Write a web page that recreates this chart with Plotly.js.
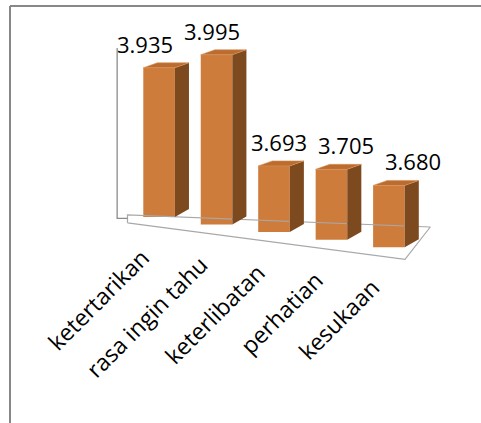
<!DOCTYPE html>
<html>
<head>
<meta charset="utf-8">
<script src="https://cdn.plot.ly/plotly-3.0.1.min.js"></script>
<style>
  html, body { margin: 0; padding: 0; background: #ffffff; }
  #chart { width: 481px; height: 423px; }
</style>
</head>
<body>
<div id="chart"></div>
<script>
// Categories and their mean scores
const categories = ['ketertarikan', 'rasa ingin tahu', 'keterlibatan', 'perhatian', 'kesukaan'];
const values = [3.935, 3.995, 3.693, 3.705, 3.680];
const valueLabels = ['3.935', '3.995', '3.693', '3.705', '3.680'];

// Pseudo-3D geometry (axis units)
const AXIS_MIN = 3.5;       // value where the bars start
const DEPTH_DROP = 0.022;   // floor drops a little per category (perspective)
const BAR_W = 0.55;         // front face width
const SIDE_DX = 0.245;      // depth of the side face, x
const SIDE_DY = 0.0146;     // depth of the side face, y

const FRONT = '#CE7C3B';
const SIDE = '#7D4A1F';
const TOP = '#BC6C2E';

const W = 481, H = 423;
const M = { l: 116, r: 49, t: 30, b: 153 };
const X_RANGE = [-0.75, 4.75];
const Y_RANGE = [3.3455, 4.0452];

const idx = categories.map((c, i) => i);
const bases = idx.map(i => AXIS_MIN - DEPTH_DROP * i);
const heights = values.map(v => v - AXIS_MIN);
const tops = bases.map((b, i) => b + heights[i]);

// side faces and top caps as filled polygons, one segment per bar
const sideX = [], sideY = [], topX = [], topY = [];
idx.forEach(i => {
  const xl = i - BAR_W / 2, xr = i + BAR_W / 2;
  sideX.push(xr, xr + SIDE_DX, xr + SIDE_DX, xr, xr, null);
  sideY.push(bases[i], bases[i] + SIDE_DY * 1.6, tops[i] + SIDE_DY, tops[i], bases[i], null);
  topX.push(xl, xr, xr + SIDE_DX, xl + SIDE_DX, xl, null);
  topY.push(tops[i], tops[i], tops[i] + SIDE_DY, tops[i] + SIDE_DY, tops[i], null);
});

const front = {
  type: 'bar', x: idx, y: heights, base: bases, width: BAR_W,
  marker: { color: FRONT, line: { width: 0 } },
  hoverinfo: 'skip'
};
const sides = {
  type: 'scatter', mode: 'lines', x: sideX, y: sideY, fill: 'toself',
  fillcolor: SIDE, line: { width: 0, color: SIDE }, hoverinfo: 'skip'
};
const capsTrace = {
  type: 'scatter', mode: 'lines', x: topX, y: topY, fill: 'toself',
  fillcolor: TOP, line: { width: 0.6, color: '#d99257' }, hoverinfo: 'skip'
};

// floor slab and back wall edge
const floorFront = -0.029, floorBack = 0.006;
const fl = -0.55, fr = 4.28, br = 4.72;
const floorX = [fl, fr, br, fl, fl];
const floorY = [
  AXIS_MIN - DEPTH_DROP * fl + floorFront,
  AXIS_MIN - DEPTH_DROP * fr + floorFront,
  AXIS_MIN - 0.0061 * (br - fl) + 0.003,
  AXIS_MIN + floorBack,
  AXIS_MIN - DEPTH_DROP * fl + floorFront
];
const floor = {
  type: 'scatter', mode: 'lines', x: floorX, y: floorY,
  line: { color: '#a8a8a8', width: 1.2 }, hoverinfo: 'skip'
};
const wall = {
  type: 'scatter', mode: 'lines', x: [-0.73, -0.73, -0.55], y: [3.993, AXIS_MIN - 0.004, AXIS_MIN - 0.004],
  line: { color: '#8c8c8c', width: 1.3 }, hoverinfo: 'skip'
};

const annotations = [];
idx.forEach(i => {
  annotations.push({
    x: i, y: tops[i] + SIDE_DY, xref: 'x', yref: 'y', text: valueLabels[i],
    showarrow: false, xanchor: 'center', yanchor: 'bottom',
    xshift: -14 + 9.5 * i, yshift: 2,
    font: { family: 'Open Sans', size: 22, color: '#000000' }
  });
  annotations.push({
    x: i, y: bases[i], xref: 'x', yref: 'y', text: categories[i],
    showarrow: false, textangle: -45, xanchor: 'right', yanchor: 'top',
    xshift: 0, yshift: -22,
    font: { family: 'Open Sans', size: 23, color: '#000000' }
  });
});

// outer frame (top and left edges)
const pw = W - M.l - M.r, ph = H - M.t - M.b;
const xp = px => (px - M.l) / pw;
const yp = py => 1 - (py - M.t) / ph;
const shapes = [
  { type: 'line', xref: 'paper', yref: 'paper', x0: xp(10), x1: xp(W + 5), y0: yp(6), y1: yp(6),
    line: { color: '#888888', width: 2 } },
  { type: 'line', xref: 'paper', yref: 'paper', x0: xp(10), x1: xp(10), y0: yp(6), y1: yp(H + 5),
    line: { color: '#888888', width: 2 } }
];

const layout = {
  width: W, height: H,
  margin: M,
  paper_bgcolor: '#ffffff', plot_bgcolor: '#ffffff',
  showlegend: false,
  xaxis: { range: X_RANGE, visible: false, fixedrange: true },
  yaxis: { range: Y_RANGE, visible: false, fixedrange: true },
  annotations: annotations,
  shapes: shapes
};

Plotly.newPlot('chart', [floor, wall, front, sides, capsTrace], layout, { staticPlot: true, displayModeBar: false });
</script>
</body>
</html>
